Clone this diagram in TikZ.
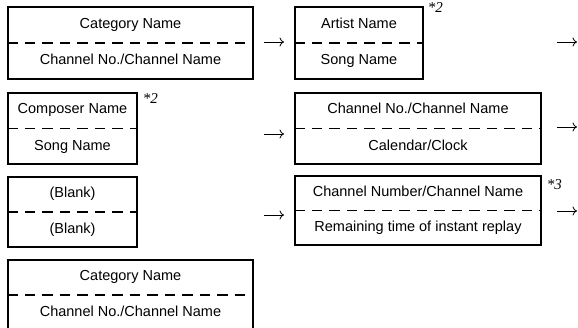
\documentclass[tikz,border=0pt]{standalone}
\usepackage{fontspec}
\setmainfont{Liberation Sans}
\newfontfamily\notefont{Liberation Serif}
\usetikzlibrary{calc, arrows.meta}

\begin{document}
\begin{tikzpicture}[x=1pt, y=-1pt,
    box/.style 2 args={draw=borderColour, line width=1.1pt, minimum width=#1, minimum height=#2, inner sep=0pt},
    divider/.style={draw=borderColour, line width=1.1pt, dash pattern=on 10.5pt off 7pt},
    label/.style={font=\fontsize{14.5}{16}\selectfont, text height=10pt, text depth=3pt, inner sep=0pt},
    note/.style={font=\notefont\itshape\fontsize{15}{16}\selectfont, anchor=base west, inner sep=0pt},
    flow/.style={line width=0.8pt, -{To[length=4.5pt, width=9pt]}}]
    % Define colours
    \definecolor{borderColour}{HTML}{000000}

    % Fix the page size
    \useasboundingbox (0,0) rectangle (578,328);

    % Draw the boxes
    \node[box={245pt}{72pt}] (b1) at (130.5,43) {};
    \node[box={128pt}{72pt}] (b2) at (359,43) {};
    \node[box={129pt}{71pt}] (b3) at (72.5,128.5) {};
    \node[box={246pt}{71pt}] (b4) at (418,128.5) {};
    \node[box={129pt}{70pt}] (b5) at (72.5,212) {};
    \node[box={246pt}{69pt}] (b6) at (418,210.5) {};
    \node[box={245pt}{70pt}] (b7) at (130.5,295) {};

    % Draw the dashed dividers
    \foreach \b in {b1,b2,b3,b4,b5,b6,b7}
        \draw[divider] (\b.west) -- (\b.east);

    % Label the upper and lower halves
    \node[label] (b1t) at ($(b1.north)!0.5!(b1.center)$) {Category Name};
    \node[label] (b1b) at ($(b1.south)!0.5!(b1.center)$) {Channel No./Channel Name};
    \node[label] (b2t) at ($(b2.north)!0.5!(b2.center)$) {Artist Name};
    \node[label] (b2b) at ($(b2.south)!0.5!(b2.center)$) {Song Name};
    \node[label] (b3t) at ($(b3.north)!0.5!(b3.center)$) {Composer Name};
    \node[label] (b3b) at ($(b3.south)!0.5!(b3.center)$) {Song Name};
    \node[label] (b4t) at ($(b4.north)!0.5!(b4.center)$) {Channel No./Channel Name};
    \node[label] (b4b) at ($(b4.south)!0.5!(b4.center)$) {Calendar/Clock};
    \node[label] (b5t) at ($(b5.north)!0.5!(b5.center)$) {(Blank)};
    \node[label] (b5b) at ($(b5.south)!0.5!(b5.center)$) {(Blank)};
    \node[label] (b6t) at ($(b6.north)!0.5!(b6.center)$) {Channel Number/Channel Name};
    \node[label] (b6b) at ($(b6.south)!0.5!(b6.center)$) {Remaining time of instant replay};
    \node[label] (b7t) at ($(b7.north)!0.5!(b7.center)$) {Category Name};
    \node[label] (b7b) at ($(b7.south)!0.5!(b7.center)$) {Channel No./Channel Name};

    % Footnote marks
    \node[note] (n2a) at ($(b2.north east)+(4,6)$) {*2};
    \node[note] (n2b) at ($(b3.north east)+(5,11)$) {*2};
    \node[note] (n3) at ($(b6.north east)+(5,14)$) {*3};

    % Draw the arrows
    \foreach \n/\y in {1/42,2/134,3/215} {
        \coordinate (ls\n) at (264,\y);
        \coordinate (le\n) at (284,\y);
        \draw[flow] (ls\n) -- (le\n);
    }
    \foreach \n/\y in {1/42,2/127,3/211} {
        \coordinate (rs\n) at (557,\y);
        \coordinate (re\n) at (577,\y);
        \draw[flow] (rs\n) -- (re\n);
    }

\end{tikzpicture}
\end{document}
